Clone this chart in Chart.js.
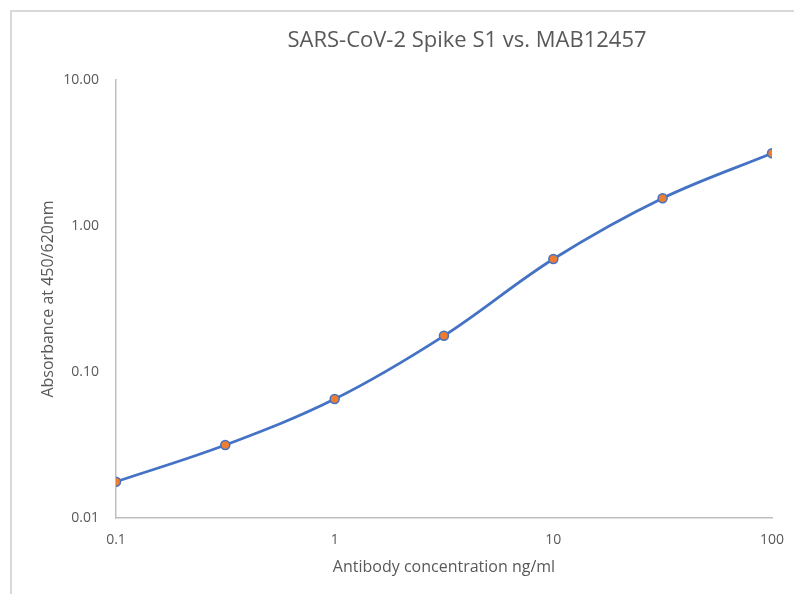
<!DOCTYPE html>
<html>
<head>
<meta charset="utf-8">
<script src="https://cdn.jsdelivr.net/npm/chart.js@4"></script>
<style>
  html, body { margin: 0; padding: 0; background: #fff; overflow: hidden; }
  #wrap { position: relative; width: 794px; height: 594px; }
  #frame { position: absolute; left: 10px; top: 10px; width: 800px; height: 600px; border: 2px solid #d9d9d9; box-sizing: border-box; pointer-events: none; }
  canvas { position: absolute; left: 0; top: 0; }
</style>
</head>
<body>
<div id="wrap">
  <canvas id="grafico" width="794" height="594"></canvas>
  <div id="frame"></div>
</div>
<script>
// concentrations (ng/ml) and absorbance
var concentracao = [0.1, 0.316, 1, 3.16, 10, 31.6, 100];
var absorbancia = [0.0177, 0.0316, 0.0653, 0.177, 0.594, 1.55, 3.15];
var ticksX = [0.1, 1, 10, 100];
var ticksY = [0.01, 0.1, 1, 10];
var titulo = 'SARS-CoV-2 Spike S1 vs. MAB12457';

var pontos = [];
for (var i = 0; i < concentracao.length; i++) {
  pontos.push({ x: concentracao[i], y: absorbancia[i] });
}

var corTexto = '#595959';
var corEixo = '#bfbfbf';
var fonte = '"Open Sans", sans-serif';

// titulo desenhado na mesma posicao do original (nao centralizado no canvas)
const tituloPlugin = {
  id: 'tituloPlugin',
  afterDraw: function (chart) {
    const c = chart.ctx;
    c.save();
    c.font = '22px ' + fonte;
    c.fillStyle = corTexto;
    c.textAlign = 'center';
    c.textBaseline = 'alphabetic';
    c.fillText(titulo, 467, 47);
    c.restore();
  }
};

const ctx = document.getElementById('grafico');

const myChart = new Chart(ctx, {
  type: 'scatter',
  data: {
    datasets: [{
      data: pontos,
      showLine: true,
      borderColor: '#4472C4',
      borderWidth: 2.75,
      tension: 0.35,
      pointRadius: 4.5,
      pointBackgroundColor: '#ED7D31',
      pointBorderColor: '#4472C4',
      pointBorderWidth: 1.5
    }]
  },
  plugins: [tituloPlugin],
  options: {
    responsive: false,
    animation: false,
    layout: { padding: { left: 0, right: 22, top: 80, bottom: 0 } },
    plugins: {
      legend: { display: false },
      tooltip: { enabled: false },
      title: { display: false }
    },
    scales: {
      x: {
        type: 'logarithmic',
        min: 0.1,
        max: 100,
        afterBuildTicks: function (scale) {
          scale.ticks = ticksX.map(function (v) { return { value: v }; });
        },
        afterFit: function (scale) {
          scale.height = 76;
          scale.paddingLeft = 0;
          scale.paddingRight = 0;
        },
        grid: { display: false, drawTicks: false },
        border: { display: true, color: corEixo, width: 1.5 },
        ticks: {
          color: corTexto,
          font: { family: fonte, size: 14 },
          padding: 14,
          maxRotation: 0,
          callback: function (v) { return String(v); }
        },
        title: {
          display: true,
          text: 'Antibody concentration ng/ml',
          color: corTexto,
          font: { family: fonte, size: 16 },
          padding: { top: 0, bottom: 17 }
        }
      },
      y: {
        type: 'logarithmic',
        min: 0.01,
        max: 10,
        afterBuildTicks: function (scale) {
          scale.ticks = ticksY.map(function (v) { return { value: v }; });
        },
        afterFit: function (scale) { scale.width = 116; },
        grid: { display: false, drawTicks: false },
        border: { display: true, color: corEixo, width: 1.5 },
        ticks: {
          color: corTexto,
          font: { family: fonte, size: 14 },
          padding: 17,
          callback: function (v) { return Number(v).toFixed(2); }
        },
        title: {
          display: true,
          text: 'Absorbance at 450/620nm',
          color: corTexto,
          font: { family: fonte, size: 16 },
          padding: { top: 39, bottom: 0 }
        }
      }
    }
  }
});
</script>
</body>
</html>
